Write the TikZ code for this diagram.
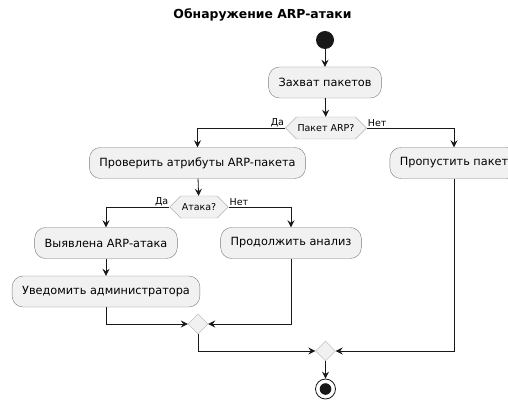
\documentclass[tikz,border=0pt]{standalone}
\usepackage{fontspec}
\setmainfont{DejaVu Sans}
\usetikzlibrary{shapes.geometric,shapes.symbols,arrows.meta}
\definecolor{actfill}{HTML}{F1F1F1}
\definecolor{actline}{HTML}{181818}
\definecolor{actborder}{HTML}{7A7A7A}
\definecolor{decborder}{HTML}{B0B0B0}

\begin{document}
\begin{tikzpicture}[x=1pt,y=-1pt,
	act/.style={draw=actborder,fill=actfill,rounded corners=11pt,minimum height=31pt,inner xsep=10pt,font=\fontsize{11.3}{13}\selectfont},
	ask/.style={signal,signal to=west and east,signal pointer angle=90,draw=decborder,fill=actfill,minimum height=22pt,inner xsep=1pt,inner ysep=0pt,font=\fontsize{9.5}{11}\selectfont},
	merge/.style={diamond,draw=decborder,fill=actfill,minimum size=20pt,inner sep=0pt},
	flow/.style={draw=actline,line width=0.8pt,-{Stealth[length=7pt,width=7pt,inset=2.5pt]}},
	lbl/.style={font=\fontsize{9.5}{11}\selectfont,inner sep=1pt}]
	\useasboundingbox (0,0) rectangle (508,403);
	\node[font=\fontsize{12.4}{14}\bfseries\selectfont] (title) at (262.5,15) {Обнаружение ARP-атаки};
	% start and first step
	\node[circle,fill=actline,minimum size=18pt,inner sep=0pt] (start) at (325,40) {};
	\node[act] (capture) at (325,82.5) {Захват пакетов};
	\node[ask] (q1) at (326,128) {Пакет ARP?};
	\node[lbl,anchor=south east] at (q1.west) {Да};
	\node[lbl,anchor=south west] at (q1.east) {Нет};
	% both branches
	\node[act] (check) at (197.5,163) {Проверить атрибуты ARP-пакета};
	\node[act] (skip) at (454,163) {Пропустить пакет};
	\node[ask] (q2) at (199,207) {Атака?};
	\node[lbl,anchor=south east] at (q2.west) {Да};
	\node[lbl,anchor=south west] at (q2.east) {Нет};
	\node[act] (found) at (106,243) {Выявлена ARP-атака};
	\node[act] (cont) at (291,243) {Продолжить анализ};
	\node[act] (notify) at (106,291.5) {Уведомить администратора};
	% merges and end
	\node[merge] (m1) at (198,324) {};
	\node[merge] (m2) at (325.5,351) {};
	\node[circle,draw=actline,fill=white,line width=0.8pt,minimum size=20pt,inner sep=0pt] (stop) at (325.5,389) {};
	\fill[actline] (stop.center) circle (5.8pt);

	\draw[flow] (start) -- (capture);
	\draw[flow] (capture) -- (q1);
	\draw[flow] (q1.west) -| (check);
	\draw[flow] (q1.east) -| (skip);
	\draw[flow] (check) -- (q2);
	\draw[flow] (q2.west) -| (found);
	\draw[flow] (q2.east) -| (cont);
	\draw[flow] (found) -- (notify);
	\draw[flow] (notify) |- (m1);
	\draw[flow] (cont) |- (m1);
	\draw[flow] (m1) |- (m2);
	\draw[flow] (skip) |- (m2);
	\draw[flow] (m2) -- (stop);
\end{tikzpicture}
\end{document}
